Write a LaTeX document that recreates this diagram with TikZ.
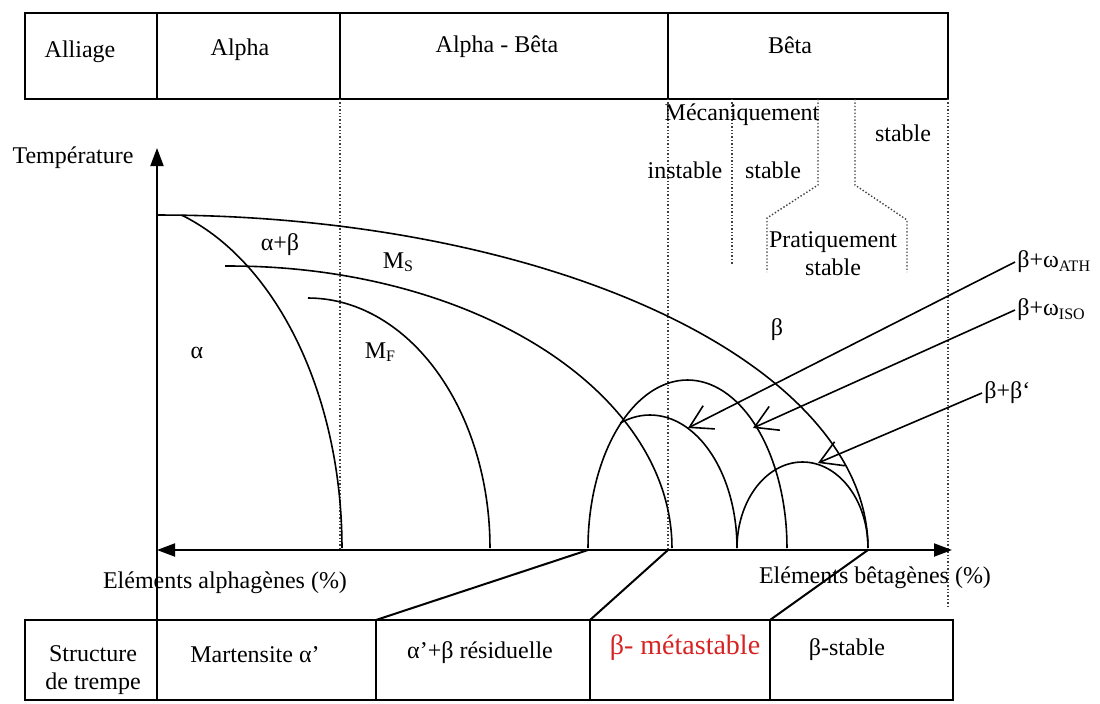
\documentclass[tikz,border=0pt]{standalone}
\usepackage{fontspec}
\setmainfont{Liberation Serif}
\usetikzlibrary{arrows.meta}
\definecolor{metared}{RGB}{214,35,35}
\newcommand\lowsub[1]{\raisebox{-0.3ex}{\footnotesize #1}}

\begin{document}
\begin{tikzpicture}[
  x=0.5pt, y=-0.5pt,
  frame/.style={line width=1.1pt},
  sep/.style={line width=0.8pt},
  curve/.style={line width=0.8pt},
  guide/.style={densely dotted,line width=0.7pt,black!75},
  axis/.style={line width=1pt},
  lbl/.style={font=\fontsize{12}{14}\selectfont,inner sep=1pt},
  pointer/.style={line width=0.8pt,-{Straight Barb[length=11pt,width=13pt]}},
  link/.style={line width=1pt}
]
\useasboundingbox (0,0) rectangle (1100,703);

% alloy classes
\draw[frame] (25,13) rectangle (948,99);
\foreach \cx in {157,340,668}
  \draw[sep] (\cx,13) -- (\cx,99);
\node[lbl] (alliage) at (80,52) {Alliage};
\node[lbl] (alpha) at (240,50) {Alpha};
\node[lbl] (alphabeta) at (497,47) {Alpha - Bêta};
\node[lbl] (beta) at (790,45) {Bêta};

% stability domains
\draw[guide] (340,99) -- (340,548);
\draw[guide] (668,99) -- (668,548);
\draw[guide] (732,99) -- (732,265);
\draw[guide] (818,99) -- (818,185) -- (767,218) -- (767,272);
\draw[guide] (855,99) -- (855,185) -- (907,220) -- (907,272);
\draw[guide] (948,99) -- (948,607);
\node[lbl] (meca) at (742,115) {Mécaniquement};
\node[lbl] (instable) at (685,170) {instable};
\node[lbl] (mstable) at (773,170) {stable};
\node[lbl] (stable) at (903,133) {stable};
\node[lbl,align=center] (prat) at (833,254) {Pratiquement\\stable};

% axes
\coordinate (origin) at (157,550);
\coordinate (ytop) at (157,148);
\coordinate (ybot) at (157,700);
\coordinate (xend) at (952,550);
\draw[axis,-{Triangle[length=9pt,width=6.5pt]}] (ybot) -- (ytop);
\draw[axis,{Triangle[length=9pt,width=6.5pt]}-{Triangle[length=9pt,width=6.5pt]}]
  (origin) -- (xend);
\node[lbl] (temp) at (73,158) {Température};
\node[lbl] (alphag) at (225,583) {Eléments alphagènes (\%)};
\node[lbl] (betag) at (875,578) {Eléments bêtagènes (\%)};

% phase boundaries
\draw[curve] plot[smooth,domain=90:0,samples=60]
  ({158+710*cos(\x)},{548-333*sin(\x)});
\draw[curve] plot[smooth,domain=72:0,samples=40]
  ({110+232*cos(\x)},{548-350*sin(\x)});
\draw[curve] (225,266) -- plot[smooth,domain=90:0,samples=50]
  ({230+442*cos(\x)},{548-282*sin(\x)});
\draw[curve] plot[smooth,domain=90:0,samples=40]
  ({308+182*cos(\x)},{548-250*sin(\x)});
\draw[curve] plot[smooth,domain=180:0,samples=50]
  ({687.5+99.5*cos(\x)},{548-168*sin(\x)});
\draw[curve] plot[smooth,domain=110:0,samples=40]
  ({650+87*cos(\x)},{548-133*sin(\x)});
\draw[curve] plot[smooth,domain=180:0,samples=40]
  ({802.5+65.5*cos(\x)},{548-86*sin(\x)});

\node[lbl] (ab) at (280,245) {α+β};
\node[lbl] (ms) at (398,262) {M\lowsub{S}};
\node[lbl] (a) at (197,353) {α};
\node[lbl] (mf) at (380,352) {M\lowsub{F}};
\node[lbl] (b) at (777,330) {β};

% precipitation domains
\node[lbl,anchor=west] (ath) at (1015,262) {β+ω\lowsub{ATH}};
\node[lbl,anchor=west] (iso) at (1015,310) {β+ω\lowsub{ISO}};
\node[lbl,anchor=west] (bb) at (982,393) {β+β`};
\coordinate (athtip) at (688,428);
\coordinate (isotip) at (753,428);
\coordinate (bbtip) at (818,463);
\draw[pointer] (ath.west) -- (athtip);
\draw[pointer] (iso.west) -- (isotip);
\draw[pointer] (bb.west) -- (bbtip);

% quench structures
\draw[frame] (25,620) rectangle (953,700);
\foreach \cx in {376,590,770}
  \draw[sep] (\cx,620) -- (\cx,700);
\coordinate (archl) at (588,550);
\coordinate (msend) at (668,550);
\coordinate (transend) at (868,550);
\coordinate (col2) at (376,620);
\coordinate (col3) at (590,620);
\coordinate (col4) at (770,620);
\draw[link] (archl) -- (col2);
\draw[link] (msend) -- (col3);
\draw[link] (transend) -- (col4);

\node[lbl,align=center] (trempe) at (93,670) {Structure\\de trempe};
\node[lbl] (mart) at (255,655) {Martensite α’};
\node[lbl] (resid) at (480,653) {α’+β résiduelle};
\node[lbl,font=\fontsize{14}{16}\selectfont,text=metared] (meta) at (685,648) {β- métastable};
\node[lbl] (bstable) at (847,650) {β-stable};
\end{tikzpicture}
\end{document}
